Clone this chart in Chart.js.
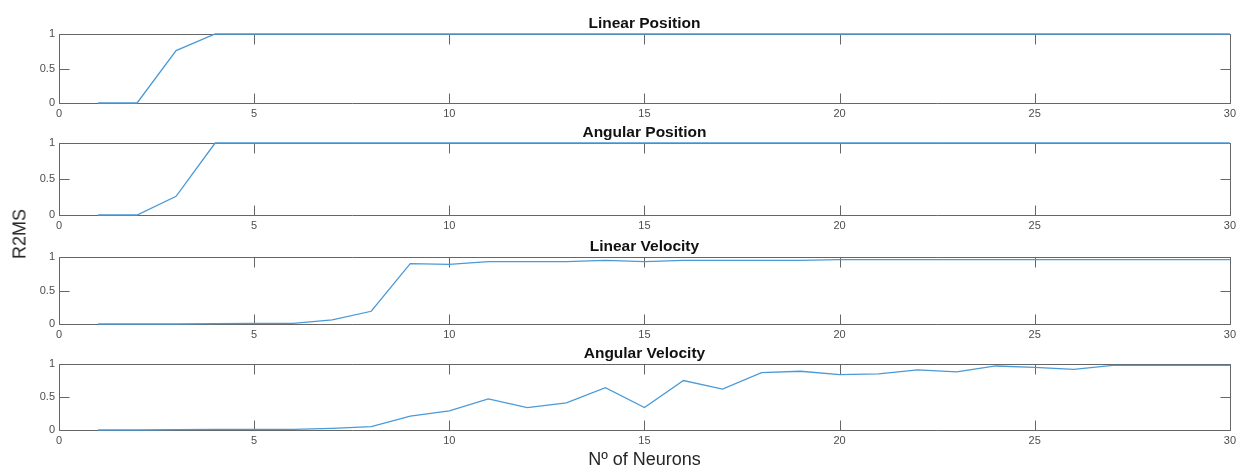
<!DOCTYPE html>
<html>
<head>
<meta charset="utf-8">
<script src="https://cdn.jsdelivr.net/npm/chart.js@4.4.1/dist/chart.umd.min.js"></script>
<style>
    body { margin: 0; background: #fff; width: 1240px; height: 468px; position: relative; overflow: hidden;
           font-family: "Liberation Sans", Arial, sans-serif; }
    canvas { position: absolute; left: 0; }
    .axis-label { position: absolute; color: #262626; font-size: 18px; white-space: nowrap; }
    #xlabel { left: 0; width: 1289px; text-align: center; top: 449px; }
    #ylabel { left: 20px; top: 234px; transform: translate(-50%, -50%) rotate(-90deg); }
</style>
</head>
<body>
<canvas id="c0"></canvas>
<canvas id="c1"></canvas>
<canvas id="c2"></canvas>
<canvas id="c3"></canvas>
<div id="xlabel" class="axis-label">Nº of Neurons</div>
<div id="ylabel" class="axis-label">R2MS</div>

<script>
const neurons = [1, 2, 3, 4, 5, 6, 7, 8, 9, 10, 11, 12, 13, 14, 15,
                 16, 17, 18, 19, 20, 21, 22, 23, 24, 25, 26, 27, 28, 29, 30];
const xTicks = [0, 5, 10, 15, 20, 25, 30];
const yTicks = [0, 0.5, 1];
const titles = ['Linear Position', 'Angular Position', 'Linear Velocity', 'Angular Velocity'];

const linearPosition = [0, 0, 0.76, 1, 1, 1, 1, 1, 1, 1, 1, 1, 1, 1, 1,
                        1, 1, 1, 1, 1, 1, 1, 1, 1, 1, 1, 1, 1, 1, 1];
const angularPosition = [0, 0, 0.26, 1, 1, 1, 1, 1, 1, 1, 1, 1, 1, 1, 1,
                         1, 1, 1, 1, 1, 1, 1, 1, 1, 1, 1, 1, 1, 1, 1];
const linearVelocity = [0, 0, 0, 0.005, 0.01, 0.01, 0.06, 0.19, 0.9, 0.89, 0.93, 0.93, 0.93, 0.95, 0.93,
                        0.95, 0.95, 0.95, 0.95, 0.96, 0.96, 0.96, 0.96, 0.96, 0.96, 0.96, 0.96, 0.96, 0.96, 0.96];
const angularVelocity = [0, 0, 0.005, 0.01, 0.01, 0.01, 0.025, 0.05, 0.21, 0.29, 0.47, 0.34, 0.41, 0.64, 0.34,
                         0.75, 0.62, 0.87, 0.89, 0.84, 0.85, 0.91, 0.88, 0.97, 0.95, 0.92, 0.98, 0.98, 0.98, 0.98];

const series = [linearPosition, angularPosition, linearVelocity, angularVelocity];

// plot-area top/bottom of each subplot, in page pixels
const panelTop = [34, 143, 257, 364];
const panelBottom = [103, 215, 324, 430];
const TITLE_SPACE = 30;
const XLABEL_SPACE = 22;
const TICK = 10;

// MATLAB-ish box with inward ticks, plus the bold subplot title
const matlabAxes = {
    id: 'matlabAxes',
    beforeDatasetsDraw(chart) {
        const { ctx, chartArea: a, scales: { x, y } } = chart;
        ctx.save();
        ctx.strokeStyle = '#666';
        ctx.lineWidth = 1;
        ctx.beginPath();
        const l = Math.round(a.left) + 0.5, r = Math.round(a.right) + 0.5;
        const t = Math.round(a.top) + 0.5, b = Math.round(a.bottom) + 0.5;
        ctx.rect(l, t, r - l, b - t);
        x.ticks.forEach(tk => {
            const px = Math.round(x.getPixelForValue(tk.value)) + 0.5;
            ctx.moveTo(px, b); ctx.lineTo(px, b - TICK);
            ctx.moveTo(px, t); ctx.lineTo(px, t + TICK);
        });
        y.ticks.forEach(tk => {
            const py = Math.round(y.getPixelForValue(tk.value)) + 0.5;
            ctx.moveTo(l, py); ctx.lineTo(l + TICK, py);
            ctx.moveTo(r, py); ctx.lineTo(r - TICK, py);
        });
        ctx.stroke();
        ctx.restore();
    },
    afterDraw(chart, args, opts) {
        const { ctx, chartArea: a } = chart;
        ctx.save();
        ctx.font = 'bold 15.5px "Liberation Sans", Arial, sans-serif';
        ctx.fillStyle = '#111';
        ctx.textAlign = 'center';
        ctx.textBaseline = 'alphabetic';
        ctx.fillText(opts.title, (a.left + a.right) / 2, a.top - 6);
        ctx.restore();
    },
};

const tickFont = { family: '"Liberation Sans", Arial, sans-serif', size: 11 };

series.forEach((values, i) => {
    const canvas = document.getElementById('c' + i);
    const h = panelBottom[i] - panelTop[i] + TITLE_SPACE + XLABEL_SPACE;
    canvas.width = 1240;
    canvas.height = h;
    canvas.style.top = (panelTop[i] - TITLE_SPACE) + 'px';

    new Chart(canvas, {
        type: 'line',
        data: {
            datasets: [{
                data: neurons.map((n, k) => ({ x: n, y: values[k] })),
                borderColor: '#4a9ad8',
                borderWidth: 1.3,
                pointRadius: 0,
                tension: 0,
                clip: 2,
            }],
        },
        options: {
            responsive: false,
            animation: false,
            layout: { padding: { top: TITLE_SPACE, right: 10, left: 0, bottom: 0 } },
            plugins: {
                legend: { display: false },
                tooltip: { enabled: false },
                matlabAxes: { title: titles[i] },
            },
            scales: {
                x: {
                    type: 'linear',
                    min: 0,
                    max: 30,
                    afterBuildTicks: s => { s.ticks = xTicks.map(v => ({ value: v })); },
                    afterFit: s => { s.height = XLABEL_SPACE; },
                    grid: { display: false, drawTicks: false },
                    border: { display: false },
                    ticks: { color: '#4d4d4d', font: tickFont, padding: 4, maxRotation: 0,
                             callback: v => String(v) },
                },
                y: {
                    min: 0,
                    max: 1,
                    afterBuildTicks: s => { s.ticks = yTicks.map(v => ({ value: v })); },
                    afterFit: s => { s.width = 59; },
                    grid: { display: false, drawTicks: false },
                    border: { display: false },
                    ticks: { color: '#4d4d4d', font: tickFont, padding: 4,
                             callback: v => String(v) },
                },
            },
        },
        plugins: [matlabAxes],
    });
});
</script>
</body>
</html>
